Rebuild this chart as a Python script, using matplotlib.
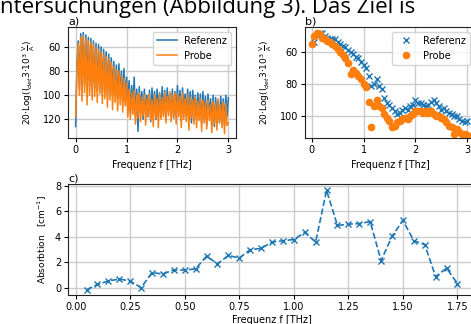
import numpy as np
import matplotlib.pyplot as plt

# panel a: spectra (dB-like values, axis inverted)
freq_a = np.arange(121) * 0.025
ref_a = [126, 75, 55, 95, 49, 90, 48, 92, 50, 95, 52, 93, 53, 96, 55, 94, 57, 97, 58, 95, 60,
         98, 62, 96, 64, 99, 66, 97, 69, 100, 72, 98, 75, 103, 74, 100, 80, 105, 78, 106, 85,
         110, 88, 115, 92, 112, 85, 118, 95, 130, 93, 114, 97, 120, 95, 116, 100, 118, 96, 122, 94,
         115, 97, 120, 95, 112, 98, 118, 93, 116, 96, 120, 94, 112, 99, 117, 95, 119, 97, 113, 92,
         115, 96, 121, 94, 113, 99, 118, 95, 117, 97, 123, 96, 114, 100, 120, 98, 118, 99, 124, 97,
         116, 101, 125, 99, 117, 103, 122, 100, 126, 102, 118, 104, 123, 101, 120, 103, 125, 100, 118, 102]
probe_a = [118, 80, 57, 100, 52, 105, 51, 98, 53, 108, 55, 100, 56, 104, 58, 101, 60, 106, 62, 99, 64,
           107, 66, 103, 68, 110, 70, 104, 73, 112, 76, 106, 79, 113, 80, 108, 84, 114, 86, 109, 90,
           118, 95, 120, 98, 116, 96, 124, 100, 119, 98, 122, 102, 117, 100, 125, 103, 118, 99, 121, 104,
           126, 100, 119, 103, 127, 99, 120, 102, 118, 98, 123, 101, 117, 97, 122, 100, 119, 98, 124, 99,
           118, 101, 127, 98, 120, 103, 122, 100, 129, 102, 119, 104, 124, 101, 127, 105, 121, 103, 130, 104,
           123, 106, 128, 104, 121, 108, 131, 105, 124, 107, 129, 103, 122, 108, 127, 106, 132, 107, 125, 123]

# panel b: peak values
freq_ref_b = np.arange(1, 61) * 0.05
ref_b = [54, 50, 48, 48, 50, 51, 52, 52, 52, 54, 55, 56, 57, 59, 60, 61, 63, 64, 66, 68,
         70, 75, 81, 80, 77, 81, 83, 89, 92, 93, 95, 97, 99, 98, 96, 95, 96, 94, 93, 90,
         92, 92, 93, 94, 93, 91, 90, 92, 94, 96, 95, 97, 98, 99, 100, 100, 102, 103, 104, 103]
freq_probe_b = np.arange(0, 61) * 0.05
probe_b = [55, 50, 48, 49, 51, 52, 53, 54, 55, 56, 58, 60, 62, 64, 67, 74, 71, 73, 75, 77, 80,
           82, 91, 107, 94, 90, 94, 95, 99, 101, 103, 107, 106, 104, 103, 102, 101, 102, 100, 99, 97,
           97, 97, 98, 97, 98, 97, 99, 100, 100, 101, 102, 104, 106, 107, 111, 108, 110, 111, 111, 112]

# panel c: absorption
freq_c = np.arange(1, 36) * 0.05
absorption = [-0.15, 0.28, 0.55, 0.7, 0.55, 0.03, 1.2, 1.1, 1.42, 1.4, 1.5, 2.5, 1.9, 2.55, 2.35,
              3.0, 3.1, 3.6, 3.7, 3.8, 4.35, 3.6, 7.65, 4.9, 5.0, 5.05, 5.2, 2.15, 4.05, 5.3,
              3.7, 3.4, 0.9, 1.55, 0.35]

W, H = 471, 324
fig = plt.figure(figsize=(W / 100, H / 100), dpi=100)

def box(l, r, t, b):
    return [l / W, (H - b) / H, (r - l) / W, (b - t) / H]

ylab = r'20$\cdot$Log(I$_{det}$3$\cdot$10$^3$ $\frac{\mathrm{V}}{\mathrm{A}}$)'
fs = 7

ax1 = fig.add_axes(box(68, 236, 27, 138))
ax1.plot(freq_a, ref_a, color='C0', lw=1.1, label='Referenz')
ax1.plot(freq_a, probe_a, color='C1', lw=1.1, label='Probe')
ax1.set_xlim(-0.15, 3.15)
ax1.set_ylim(135.5, 43.5)
ax1.set_yticks([60, 80, 100, 120])
ax1.set_xticks([0, 1, 2, 3])
ax1.set_xlabel('Frequenz f [THz]', fontsize=fs)
ax1.set_ylabel(ylab, fontsize=6.5)
ax1.legend(loc='upper right', fontsize=fs)
ax1.set_title('a)', loc='left', fontsize=8, pad=1)

ax2 = fig.add_axes(box(305, 475, 27, 138))
ax2.plot(freq_ref_b, ref_b, 'x', color='C0', ms=4.5, label='Referenz')
ax2.plot(freq_probe_b, probe_b, 'o', color='C1', ms=4.5, label='Probe')
ax2.set_xlim(-0.13, 3.15)
ax2.set_ylim(113.7, 44.4)
ax2.set_yticks([60, 80, 100])
ax2.set_xticks([0, 1, 2, 3])
ax2.set_xlabel('Frequenz f [Thz]', fontsize=fs)
ax2.set_ylabel(ylab, fontsize=6.5)
ax2.legend(loc='upper right', fontsize=fs)
ax2.set_title('b)', loc='left', fontsize=8, pad=1)

ax3 = fig.add_axes(box(68, 476, 184, 295))
ax3.plot(freq_c, absorption, 'x--', color='C0', ms=5, lw=1.2)
ax3.set_xlim(-0.035, 1.835)
ax3.set_ylim(-0.55, 8.15)
ax3.set_yticks([0, 2, 4, 6, 8])
ax3.set_xticks([0, 0.25, 0.5, 0.75, 1.0, 1.25, 1.5, 1.75])
ax3.set_xlabel('Frequenz f [THz]', fontsize=fs, labelpad=2)
ax3.set_ylabel(r'Absorbtion   [cm$^{-1}$]', fontsize=6.5)
ax3.set_title('c)', loc='left', fontsize=8, pad=2)

for ax in (ax1, ax2, ax3):
    ax.grid(True, color='#cccccc', lw=1)
    ax.set_axisbelow(True)
    ax.tick_params(labelsize=fs, length=3, pad=2)
    for s in ax.spines.values():
        s.set_color('#222222')

# surrounding document text, cut at the top edge like in the screenshot
fig.text(0.0, 1 - 13 / H, 'ntersuchungen (Abbildung 3). Das Ziel is', fontsize=16,
         family='Open Sans', ha='left', va='baseline')

fig.savefig('out.png', dpi=100)
